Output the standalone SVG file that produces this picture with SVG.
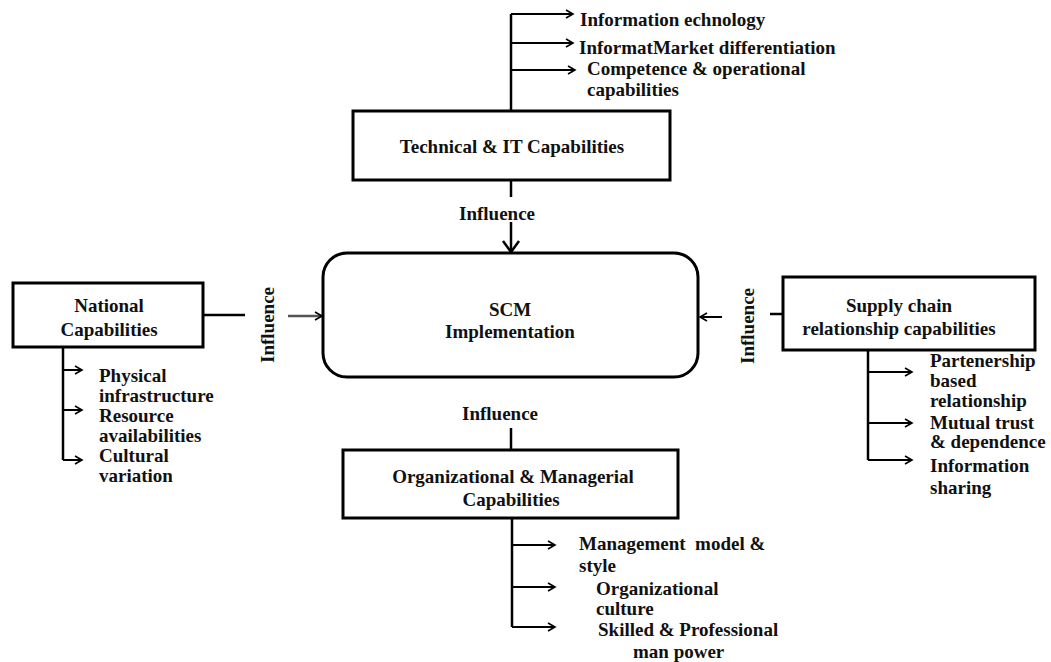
<svg xmlns="http://www.w3.org/2000/svg" width="1051" height="662" viewBox="0 0 1051 662">
<style>
text{font-family:'Liberation Serif','Times New Roman','DejaVu Serif',serif;font-size:19px;font-weight:bold;fill:#111}
.c{text-anchor:middle}
.box{fill:#fff;stroke:#000;stroke-width:3}
.ln{fill:none;stroke:#000;stroke-width:2.5}
.br{fill:none;stroke:#000;stroke-width:2;marker-end:url(#ah)}
.gr{fill:none;stroke:#555;stroke-width:2.5;marker-end:url(#ah)}
</style>
<defs>
<marker id="ah" markerWidth="10" markerHeight="10" refX="8" refY="5" orient="auto" markerUnits="userSpaceOnUse">
<path d="M1,1 L8,5 L1,9" fill="none" stroke="#000" stroke-width="1.6"/>
</marker>
</defs>
<g id="connectors">
<path class="ln" d="M511,14 V111"/>
<path class="br" d="M511,14 H573"/>
<path class="br" d="M511,43 H573"/>
<path class="br" d="M511,70 H575"/>
<path class="ln" d="M511,180 V197"/>
<path class="ln" d="M511,222 V250"/>
<path d="M503,241 L511,252 L519,241" fill="none" stroke="#000" stroke-width="2.5"/>
<path class="ln" d="M203,315 H245"/>
<path class="gr" d="M288,316 H322"/>
<path class="ln" d="M63,347 V460"/>
<path class="br" d="M63,370 H82"/>
<path class="br" d="M63,410 H82"/>
<path class="br" d="M63,460 H82"/>
<path class="ln" d="M783,314 H770"/>
<path class="br" d="M722,317 H700"/>
<path class="ln" d="M868,350 V460"/>
<path class="br" d="M868,372 H912"/>
<path class="br" d="M868,423 H912"/>
<path class="br" d="M868,460 H912"/>
<path class="ln" d="M511,428 V450"/>
<path class="ln" d="M512,518 V627"/>
<path class="br" d="M512,545 H555"/>
<path class="br" d="M512,587 H555"/>
<path class="br" d="M512,627 H555"/>
</g>
<g id="tech">
<rect class="box" x="353" y="111" width="317" height="69"/>
<text class="c" x="512" y="153">Technical &amp; IT Capabilities</text>
</g>
<g id="tech-items">
<text x="580" y="26">Information echnology</text>
<text x="579" y="54">InformatMarket differentiation</text>
<text x="587" y="75">Competence &amp; operational</text>
<text x="587" y="96">capabilities</text>
</g>
<g id="scm">
<rect class="box" x="323" y="253" width="375" height="124" rx="24"/>
<text class="c" x="510" y="316">SCM</text>
<text class="c" x="510" y="338">Implementation</text>
</g>
<g id="national">
<rect class="box" x="13" y="283" width="190" height="64"/>
<text class="c" x="109" y="312">National</text>
<text class="c" x="109" y="336">Capabilities</text>
</g>
<g id="national-items">
<text x="99" y="382">Physical</text>
<text x="99" y="402">infrastructure</text>
<text x="99" y="422">Resource</text>
<text x="99" y="442">availabilities</text>
<text x="99" y="462">Cultural</text>
<text x="99" y="482">variation</text>
</g>
<g id="supply">
<rect class="box" x="783" y="277" width="252" height="73"/>
<text class="c" x="899" y="312">Supply chain</text>
<text class="c" x="899" y="335">relationship capabilities</text>
</g>
<g id="supply-items">
<text x="930" y="367">Partenership</text>
<text x="930" y="387">based</text>
<text x="930" y="407">relationship</text>
<text x="930" y="429">Mutual trust</text>
<text x="930" y="448">&amp; dependence</text>
<text x="930" y="472">Information</text>
<text x="930" y="494">sharing</text>
</g>
<g id="org">
<rect class="box" x="343" y="450" width="335" height="68"/>
<text class="c" x="513" y="483">Organizational &amp; Managerial</text>
<text class="c" x="511" y="506">Capabilities</text>
</g>
<g id="org-items">
<text x="579" y="550" xml:space="preserve">Management  model &amp;</text>
<text x="579" y="572">style</text>
<text x="596" y="595">Organizational</text>
<text x="596" y="615">culture</text>
<text x="598" y="636">Skilled &amp; Professional</text>
<text x="633" y="658">man power</text>
</g>
<g id="labels">
<text class="c" x="497" y="220">Influence</text>
<text class="c" x="500" y="420">Influence</text>
<text class="c" transform="translate(274,325) rotate(-90)">Influence</text>
<text class="c" transform="translate(754,326) rotate(-90)">Influence</text>
</g>
</svg>
